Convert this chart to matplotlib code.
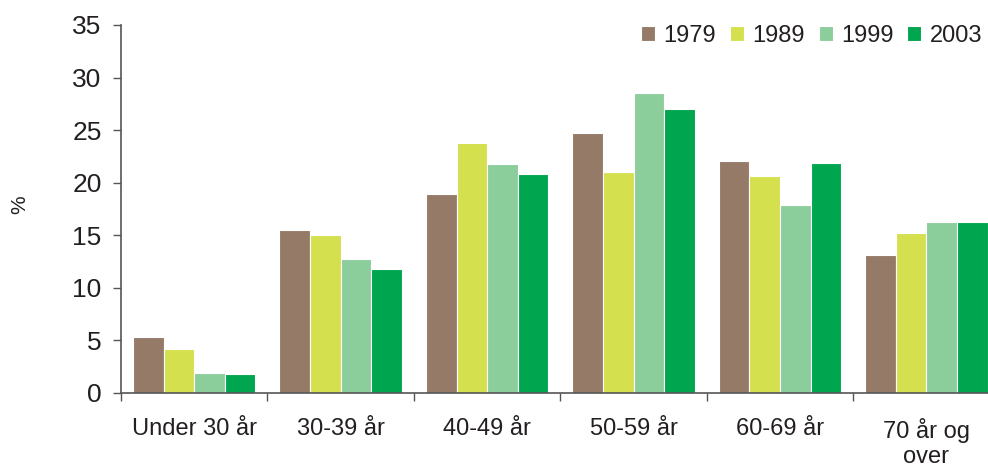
import numpy as np
import matplotlib.pyplot as plt

plt.rcParams['font.family'] = ['Liberation Sans', 'DejaVu Sans']

categories = ['Under 30 år', '30-39 år', '40-49 år', '50-59 år', '60-69 år', '70 år og\nover']
years = ['1979', '1989', '1999', '2003']
v1979 = [5.3, 15.5, 18.9, 24.7, 22.1, 13.1]
v1989 = [4.2, 15.0, 23.8, 21.0, 20.6, 15.2]
v1999 = [1.9, 12.7, 21.8, 28.5, 17.9, 16.3]
v2003 = [1.8, 11.8, 20.8, 27.0, 21.9, 16.3]
colors = ['#967a68', '#d5e04e', '#8ccd9c', '#00a64f']

txt = '#231f20'
fig = plt.figure(figsize=(9.88, 4.68), dpi=100)
ax = fig.add_axes([0.1225, 0.1603, 0.8775, 0.7863])

x = np.arange(len(categories))
w = 0.209
for i, (vals, yr) in enumerate(zip([v1979, v1989, v1999, v2003], years)):
    ax.bar(x + (i - 1.5) * w, vals, w, color=colors[i], edgecolor='white',
           linewidth=0.8, label=yr)

ax.set_ylim(0, 35)
ax.set_xlim(-0.5, 5.42)
ax.set_yticks(range(0, 36, 5))
ax.set_xticks(np.arange(-0.5, 5.0, 1.0))
ax.set_xticklabels([])
ax.set_xticks(x, minor=True)
ax.set_xticklabels(categories, minor=True, fontsize=17, color=txt, linespacing=1.2)
ax.tick_params(axis='x', which='minor', length=0, pad=18)
ax.tick_params(axis='x', which='major', length=6, width=1, color='#555555', direction='out')
ax.tick_params(axis='y', length=6, width=1, color='#555555', labelsize=19, labelcolor=txt, pad=8)

for s in ['top', 'right']:
    ax.spines[s].set_visible(False)
for s in ['left', 'bottom']:
    ax.spines[s].set_color('#555555')
    ax.spines[s].set_linewidth(1.2)

fig.text(20 / 988, 0.562, '%', rotation=90, fontsize=15, color=txt, ha='center', va='center')

ax.legend(loc='upper right', bbox_to_anchor=(0.994, 0.947), bbox_transform=fig.transFigure,
          ncol=4, frameon=False, fontsize=17, handlelength=0.6, handleheight=0.6,
          handletextpad=0.35, columnspacing=0.58, borderaxespad=0, borderpad=0,
          labelcolor=txt)

fig.savefig('out.png', dpi=100)
